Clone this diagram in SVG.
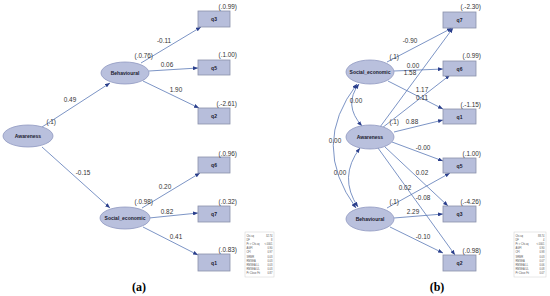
<svg xmlns="http://www.w3.org/2000/svg" width="550" height="296" viewBox="0 0 550 296">
<style>
.ell{fill:#b9c0dd;stroke:#8f98c0;stroke-width:0.8}
.box{fill:#b7bedb;stroke:#8a91ab;stroke-width:0.8}
.nl{font-family:"Liberation Sans",Arial,sans-serif;font-size:5px;font-weight:bold;fill:#1a1a2e;text-anchor:middle;dominant-baseline:central}
.el{font-family:"Liberation Sans",Arial,sans-serif;font-size:6.4px;fill:#333;text-anchor:middle}
.pl{font-family:"Liberation Sans",Arial,sans-serif;font-size:6.4px;fill:#333;text-anchor:end}
.ed{fill:none;stroke:#5b78b6;stroke-width:0.8}
.st{font-family:"Liberation Sans",Arial,sans-serif;font-size:2.6px;fill:#555}
.sv{font-family:"Liberation Sans",Arial,sans-serif;font-size:2.6px;fill:#555;text-anchor:end}
.cap{font-family:"Liberation Serif","Times New Roman",serif;font-size:12px;font-weight:bold;fill:#000;text-anchor:middle}
</style>
<defs>
<marker id="ah" viewBox="0 0 10 8" refX="10" refY="4" markerWidth="5" markerHeight="4" markerUnits="userSpaceOnUse" orient="auto-start-reverse">
<path d="M0,0 L10,4 L0,8 z" fill="#2b3f8c"/>
</marker>
</defs>
<rect width="550" height="296" fill="#fff"/>

<g id="connectors">
<!-- panel a -->
<path class="ed" d="M42,127 L110,83" marker-end="url(#ah)"/>
<path class="ed" d="M42,147 L110,208" marker-end="url(#ah)"/>
<path class="ed" d="M141,63 L201,27" marker-end="url(#ah)"/>
<path class="ed" d="M149,71 L198,68" marker-end="url(#ah)"/>
<path class="ed" d="M143,81 L199,108" marker-end="url(#ah)"/>
<path class="ed" d="M142,208 L200,173" marker-end="url(#ah)"/>
<path class="ed" d="M149,218 L198,213" marker-end="url(#ah)"/>
<path class="ed" d="M143,227 L198,255" marker-end="url(#ah)"/>
<!-- panel b -->
<path class="ed" d="M387,62 L452,28" marker-end="url(#ah)"/>
<path class="ed" d="M394,71 L443,69" marker-end="url(#ah)"/>
<path class="ed" d="M388,81 L443,109" marker-end="url(#ah)"/>
<path class="ed" d="M380,127 L453,28" marker-end="url(#ah)"/>
<path class="ed" d="M382,128 L450,75" marker-end="url(#ah)"/>
<path class="ed" d="M394,132 L443,120" marker-end="url(#ah)"/>
<path class="ed" d="M392,142 L443,161" marker-end="url(#ah)"/>
<path class="ed" d="M385,147 L448,206" marker-end="url(#ah)"/>
<path class="ed" d="M378,148 L455,255" marker-end="url(#ah)"/>
<path class="ed" d="M387,208 L450,173" marker-end="url(#ah)"/>
<path class="ed" d="M394,218 L443,214" marker-end="url(#ah)"/>
<path class="ed" d="M390,227 L443,253" marker-end="url(#ah)"/>
<path class="ed" d="M359,84 Q343,105 362,126" marker-start="url(#ah)" marker-end="url(#ah)"/>
<path class="ed" d="M360,148 Q338,177 358,207" marker-start="url(#ah)" marker-end="url(#ah)"/>
<path class="ed" d="M357,84 Q310,145 356,208" marker-start="url(#ah)" marker-end="url(#ah)"/>
</g>

<g id="edge-labels">
<text class="el" x="70" y="102">0.49</text>
<text class="el" x="83" y="175">-0.15</text>
<text class="el" x="164" y="43">-0.11</text>
<text class="el" x="167" y="67">0.06</text>
<text class="el" x="176" y="92">1.90</text>
<text class="el" x="165" y="189">0.20</text>
<text class="el" x="167" y="214">0.82</text>
<text class="el" x="176" y="239">0.41</text>
<text class="el" x="410" y="43">-0.90</text>
<text class="el" x="413" y="68">0.00</text>
<text class="el" x="410" y="75">1.58</text>
<text class="el" x="422" y="92">1.17</text>
<text class="el" x="422" y="100">0.11</text>
<text class="el" x="412" y="124">0.88</text>
<text class="el" x="423" y="150">-0.00</text>
<text class="el" x="422" y="175">0.02</text>
<text class="el" x="405" y="190">0.02</text>
<text class="el" x="423" y="200">-0.08</text>
<text class="el" x="413" y="214">2.29</text>
<text class="el" x="423" y="239">-0.10</text>
<text class="el" x="356" y="103">0.00</text>
<text class="el" x="340" y="175">0.00</text>
<text class="el" x="335" y="143">0.00</text>
</g>

<!-- panel a nodes -->
<g id="a-awareness">
<ellipse class="ell" cx="28" cy="136" rx="25" ry="11"/>
<text class="nl" x="28" y="136">Awareness</text>
<text class="pl" x="56" y="124">(.1)</text>
</g>
<g id="a-behavioural">
<ellipse class="ell" cx="125" cy="73" rx="24" ry="11"/>
<text class="nl" x="125" y="73">Behavioural</text>
<text class="pl" x="153" y="58">(.0.76)</text>
</g>
<g id="a-social">
<ellipse class="ell" cx="125" cy="218" rx="25" ry="11"/>
<text class="nl" x="125" y="218">Social_economic</text>
<text class="pl" x="153" y="204">(.0.98)</text>
</g>
<g id="a-q3">
<rect class="box" x="198" y="11" width="32" height="16"/>
<text class="nl" x="214" y="19">q3</text>
<text class="pl" x="237" y="9">(.0.99)</text>
</g>
<g id="a-q5">
<rect class="box" x="198" y="60" width="32" height="15"/>
<text class="nl" x="214" y="67.5">q5</text>
<text class="pl" x="237" y="57">(.1.00)</text>
</g>
<g id="a-q2">
<rect class="box" x="198" y="108" width="32" height="16"/>
<text class="nl" x="214" y="116">q2</text>
<text class="pl" x="237" y="106">(.-2.61)</text>
</g>
<g id="a-q6">
<rect class="box" x="198" y="157" width="32" height="16"/>
<text class="nl" x="214" y="165">q6</text>
<text class="pl" x="237" y="156">(.0.96)</text>
</g>
<g id="a-q7">
<rect class="box" x="198" y="206" width="32" height="16"/>
<text class="nl" x="214" y="214">q7</text>
<text class="pl" x="237" y="204">(.0.32)</text>
</g>
<g id="a-q1">
<rect class="box" x="198" y="254" width="32" height="17"/>
<text class="nl" x="214" y="262.5">q1</text>
<text class="pl" x="237" y="252">(.0.83)</text>
</g>
<g id="a-stats">
<rect x="245" y="232" width="29" height="45" fill="#fff" stroke="#d0d0d0" stroke-width="0.5"/>
<text class="st" x="246.5" y="236.5">Chi-sq</text><text class="sv" x="272.5" y="236.5">32.74</text>
<text class="st" x="246.5" y="240.7">DF</text><text class="sv" x="272.5" y="240.7">8</text>
<text class="st" x="246.5" y="244.9">Pr &gt; Chi-sq</text><text class="sv" x="272.5" y="244.9">&lt;.0001</text>
<text class="st" x="246.5" y="249.1">AGFI</text><text class="sv" x="272.5" y="249.1">0.90</text>
<text class="st" x="246.5" y="253.3">CFI</text><text class="sv" x="272.5" y="253.3">0.97</text>
<text class="st" x="246.5" y="257.5">SRMR</text><text class="sv" x="272.5" y="257.5">0.03</text>
<text class="st" x="246.5" y="261.7">RMSEA</text><text class="sv" x="272.5" y="261.7">0.03</text>
<text class="st" x="246.5" y="265.9">RMSEA LL</text><text class="sv" x="272.5" y="265.9">0.03</text>
<text class="st" x="246.5" y="270.1">RMSEA UL</text><text class="sv" x="272.5" y="270.1">0.03</text>
<text class="st" x="246.5" y="274.3">Pr Close Fit</text><text class="sv" x="272.5" y="274.3">0.87</text>
</g>
<text class="cap" x="139" y="291">(a)</text>

<!-- panel b nodes -->
<g id="b-social">
<ellipse class="ell" cx="370" cy="72" rx="24" ry="12"/>
<text class="nl" x="370" y="72">Social_economic</text>
<text class="pl" x="399" y="59">(.1)</text>
</g>
<g id="b-awareness">
<ellipse class="ell" cx="370" cy="137" rx="24" ry="12"/>
<text class="nl" x="370" y="137">Awareness</text>
<text class="pl" x="399" y="124">(.1)</text>
</g>
<g id="b-behavioural">
<ellipse class="ell" cx="370" cy="219" rx="24" ry="12"/>
<text class="nl" x="370" y="219">Behavioural</text>
<text class="pl" x="399" y="204">(.1)</text>
</g>
<g id="b-q7">
<rect class="box" x="443" y="12" width="33" height="16"/>
<text class="nl" x="459.5" y="20">q7</text>
<text class="pl" x="481" y="9">(.-2.30)</text>
</g>
<g id="b-q6">
<rect class="box" x="443" y="61" width="33" height="15"/>
<text class="nl" x="459.5" y="68.5">q6</text>
<text class="pl" x="481" y="58">(.0.99)</text>
</g>
<g id="b-q1">
<rect class="box" x="443" y="109" width="33" height="15"/>
<text class="nl" x="459.5" y="116.5">q1</text>
<text class="pl" x="481" y="107">(.-1.15)</text>
</g>
<g id="b-q5">
<rect class="box" x="443" y="158" width="33" height="15"/>
<text class="nl" x="459.5" y="165.5">q5</text>
<text class="pl" x="481" y="156">(.1.00)</text>
</g>
<g id="b-q3">
<rect class="box" x="443" y="206" width="33" height="16"/>
<text class="nl" x="459.5" y="214">q3</text>
<text class="pl" x="481" y="204">(.-4.26)</text>
</g>
<g id="b-q2">
<rect class="box" x="443" y="255" width="33" height="16"/>
<text class="nl" x="459.5" y="263">q2</text>
<text class="pl" x="481" y="253">(.0.98)</text>
</g>
<g id="b-stats">
<rect x="514" y="232" width="32" height="45" fill="#fff" stroke="#d0d0d0" stroke-width="0.5"/>
<text class="st" x="515.5" y="236.5">Chi-sq</text><text class="sv" x="544.5" y="236.5">88.74</text>
<text class="st" x="515.5" y="240.7">DF</text><text class="sv" x="544.5" y="240.7">4</text>
<text class="st" x="515.5" y="244.9">Pr &gt; Chi-sq</text><text class="sv" x="544.5" y="244.9">&lt;.0001</text>
<text class="st" x="515.5" y="249.1">AGFI</text><text class="sv" x="544.5" y="249.1">0.90</text>
<text class="st" x="515.5" y="253.3">CFI</text><text class="sv" x="544.5" y="253.3">0.98</text>
<text class="st" x="515.5" y="257.5">SRMR</text><text class="sv" x="544.5" y="257.5">0.03</text>
<text class="st" x="515.5" y="261.7">RMSEA</text><text class="sv" x="544.5" y="261.7">0.07</text>
<text class="st" x="515.5" y="265.9">RMSEA LL</text><text class="sv" x="544.5" y="265.9">0.06</text>
<text class="st" x="515.5" y="270.1">RMSEA UL</text><text class="sv" x="544.5" y="270.1">0.08</text>
<text class="st" x="515.5" y="274.3">Pr Close Fit</text><text class="sv" x="544.5" y="274.3">0.07</text>
</g>
<text class="cap" x="437" y="291">(b)</text>
</svg>
